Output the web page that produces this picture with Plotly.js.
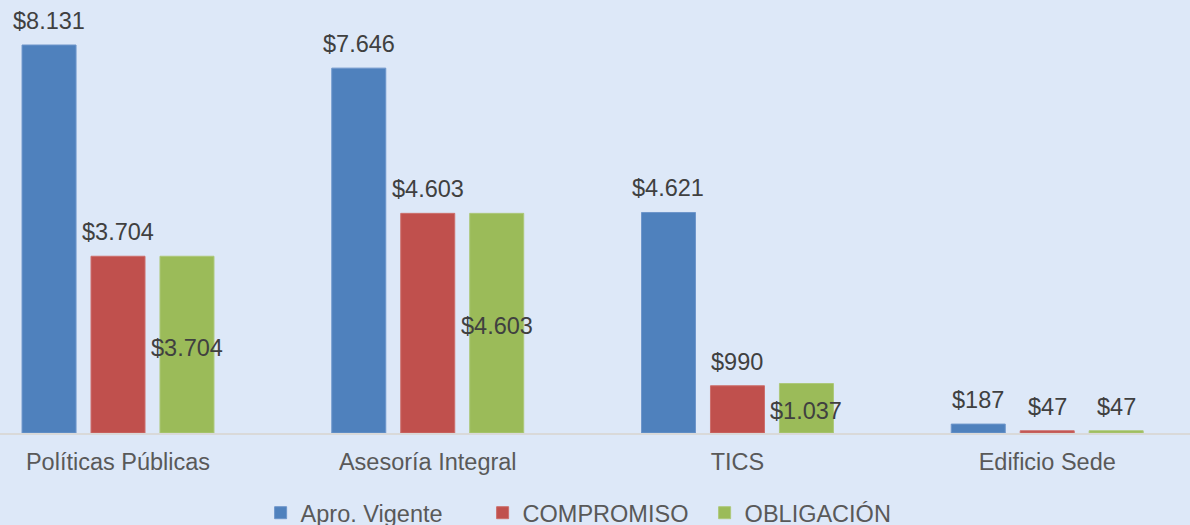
<!DOCTYPE html>
<html><head><meta charset="utf-8">
<script src="https://cdn.plot.ly/plotly-3.0.1.min.js"></script>
<style>html,body{margin:0;padding:0;background:#DDE8F8;}</style>
</head><body>
<div id="chart" style="width:1190px;height:525px;"></div>
<script>
const categories = ['Políticas Públicas', 'Asesoría Integral', 'TICS', 'Edificio Sede'];
const seriesNames = ['Apro. Vigente', 'COMPROMISO', 'OBLIGACIÓN'];
const aproVigente = [8131, 7646, 4621, 187];
const compromiso = [3704, 4603, 990, 47];
const obligacion = [3704, 4603, 1037, 47];

const colors = ['#4F81BD', '#C0504D', '#9BBB59'];
const lineColors = ['#6E96CB', '#CC6F6C', '#ADC87A'];
const labelColor = '#404040';
const FONT = 'Liberation Sans, Arial, sans-serif';
const FS = 23.5;
const groupShift = 69;

function fmt(v) {
  return '$' + String(v).replace(/\B(?=(\d{3})+(?!\d))/g, '.');
}

const allSeries = [aproVigente, compromiso, obligacion];
const traces = allSeries.map((vals, i) => ({
  type: 'bar',
  name: seriesNames[i],
  x: categories,
  y: vals,
  marker: {color: colors[i], line: {color: lineColors[i], width: 1}},
  hoverinfo: 'x+y+name'
}));

const annotations = [];
allSeries.forEach((vals, s) => {
  vals.forEach((v, c) => {
    // OBLIGACIÓN labels sit centered inside the bar when the bar is tall enough
    const inside = (s === 2 && v > 500);
    annotations.push({
      x: categories[c], y: inside ? v / 2 : v,
      xref: 'x', yref: 'y',
      text: fmt(v), showarrow: false,
      xshift: (s - 1) * groupShift,
      yanchor: inside ? 'middle' : 'bottom',
      yshift: inside ? -3 : 9,
      font: {family: FONT, size: FS, color: labelColor}
    });
  });
});

const layout = {
  width: 1190, height: 525,
  paper_bgcolor: '#DDE8F8', plot_bgcolor: '#DDE8F8',
  font: {family: FONT, size: FS, color: '#595959'},
  margin: {l: 0, r: 0, t: 0, b: 92, pad: 0, autoexpand: false},
  barmode: 'group', bargap: 0.332, bargroupgap: 0.217,
  showlegend: true,
  legend: {
    orientation: 'h', xref: 'container', yref: 'container',
    x: 0.219, xanchor: 'left', y: 0.023, yanchor: 'middle',
    font: {family: FONT, size: FS, color: '#595959'},
    bgcolor: 'rgba(0,0,0,0)', entrywidth: 177, traceorder: 'normal'
  },
  xaxis: {
    type: 'category', range: [-0.381, 3.461], fixedrange: true, automargin: false,
    showline: true, linecolor: '#D9D9D9', linewidth: 2,
    showgrid: false, zeroline: false, ticks: '', ticklabelstandoff: 7,
    tickfont: {family: FONT, size: FS, color: '#595959'}
  },
  yaxis: {
    range: [0, 9074], visible: false, showgrid: false, zeroline: false, fixedrange: true
  },
  annotations: annotations
};

Plotly.newPlot('chart', traces, layout, {displayModeBar: false, staticPlot: true});
</script>
</body></html>
